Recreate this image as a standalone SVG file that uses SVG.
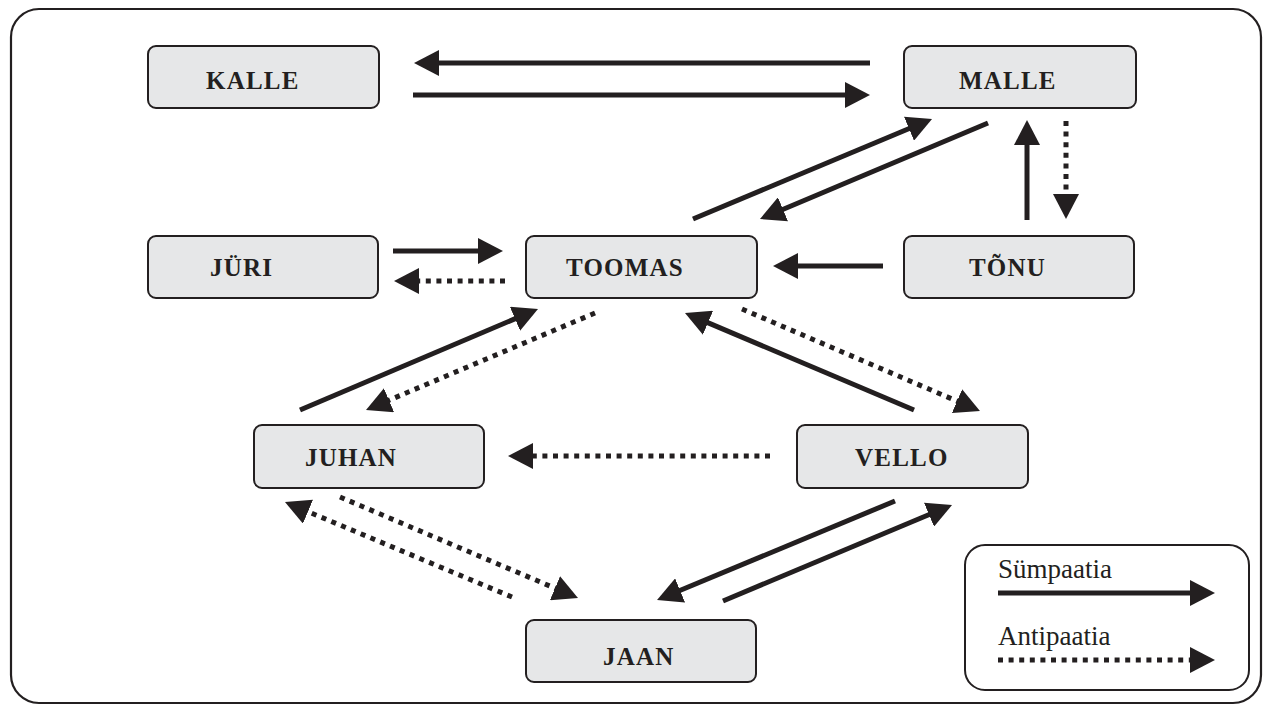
<svg xmlns="http://www.w3.org/2000/svg" width="1263" height="706" viewBox="0 0 1263 706">
<defs>
<marker id="ah" markerUnits="userSpaceOnUse" markerWidth="26" markerHeight="26" viewBox="0 0 26 26" refX="1" refY="13" orient="auto">
<path d="M0,0 L25,13 L0,26 z" fill="#231f20"/>
</marker>
<style>
.frame{fill:#fff;stroke:#231f20;stroke-width:2.2}
.node{fill:#e6e7e8;stroke:#231f20;stroke-width:2}
.lbl{font-family:"Liberation Serif","DejaVu Serif",serif;font-weight:bold;font-size:25px;fill:#231f20;letter-spacing:1.2px}
.leg{font-family:"Liberation Serif","DejaVu Serif",serif;font-size:27px;fill:#231f20}
.s{fill:none;stroke:#231f20;stroke-width:5;marker-end:url(#ah)}
.d{fill:none;stroke:#231f20;stroke-width:5;stroke-dasharray:5 5.6;marker-end:url(#ah)}
</style>
</defs>
<rect class="frame" x="11" y="9" width="1250" height="694" rx="28"/>

<g id="kalle"><rect class="node" x="148" y="46" width="231" height="62" rx="8"/><text class="lbl" x="206" y="89">KALLE</text></g>
<g id="malle"><rect class="node" x="904" y="46" width="232" height="62" rx="8"/><text class="lbl" x="959" y="89">MALLE</text></g>
<g id="juri"><rect class="node" x="148" y="236" width="230" height="62" rx="8"/><text class="lbl" x="210" y="276">JÜRI</text></g>
<g id="toomas"><rect class="node" x="526" y="236" width="231" height="62" rx="8"/><text class="lbl" x="566" y="276">TOOMAS</text></g>
<g id="tonu"><rect class="node" x="904" y="236" width="230" height="62" rx="8"/><text class="lbl" x="969" y="276">TÕNU</text></g>
<g id="juhan"><rect class="node" x="254" y="425" width="230" height="63" rx="8"/><text class="lbl" x="305" y="466">JUHAN</text></g>
<g id="vello"><rect class="node" x="797" y="425" width="231" height="63" rx="8"/><text class="lbl" x="855" y="466">VELLO</text></g>
<g id="jaan"><rect class="node" x="526" y="620" width="230" height="62" rx="8"/><text class="lbl" x="603" y="665">JAAN</text></g>

<g id="connectors">
<line class="s" x1="870" y1="63" x2="438" y2="63"/>
<line class="s" x1="413" y1="95" x2="846" y2="95"/>
<line class="s" x1="693" y1="219" x2="909.9" y2="128.3"/>
<line class="s" x1="988" y1="123" x2="782.1" y2="209.7"/>
<line class="s" x1="1027" y1="220" x2="1027" y2="144"/>
<line class="d" x1="1066" y1="121" x2="1066" y2="195"/>
<line class="s" x1="883" y1="266" x2="797" y2="266"/>
<line class="s" x1="393" y1="251" x2="479" y2="251"/>
<line class="d" x1="505" y1="281" x2="418" y2="281"/>
<line class="s" x1="300" y1="410" x2="515.9" y2="318.4"/>
<line class="d" x1="595" y1="313" x2="388.1" y2="400.6"/>
<line class="s" x1="914" y1="410" x2="707.1" y2="322.4"/>
<line class="d" x1="742" y1="309" x2="957.9" y2="401.5"/>
<line class="d" x1="770" y1="456" x2="532" y2="456"/>
<line class="d" x1="340" y1="497" x2="555.9" y2="588.6"/>
<line class="d" x1="512" y1="597" x2="307.1" y2="511.3"/>
<line class="s" x1="895" y1="501" x2="679.2" y2="590.8"/>
<line class="s" x1="723" y1="601" x2="929.9" y2="514.3"/>
</g>

<g id="legend">
<rect x="965" y="545" width="284" height="145" rx="20" fill="#fff" stroke="#231f20" stroke-width="2"/>
<text class="leg" x="998" y="578">Sümpaatia</text>
<line class="s" x1="998" y1="593" x2="1191" y2="593"/>
<text class="leg" x="998" y="645">Antipaatia</text>
<line class="d" x1="998" y1="660" x2="1191" y2="660"/>
</g>
</svg>
